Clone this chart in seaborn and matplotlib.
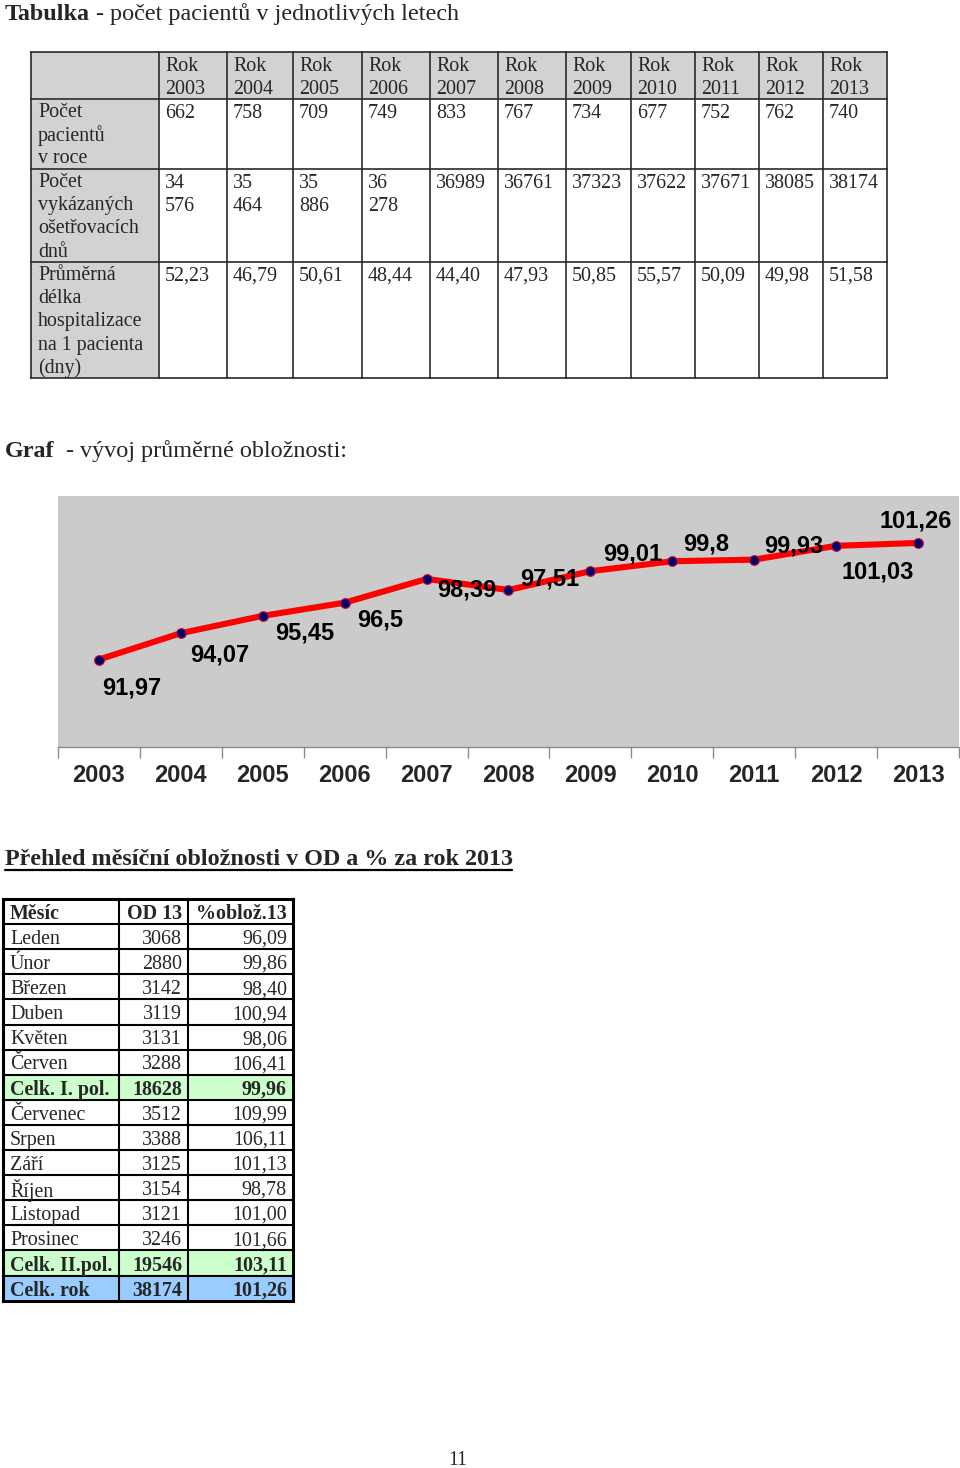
import matplotlib
matplotlib.use("Agg")
import matplotlib.pyplot as plt
from matplotlib.patches import Rectangle
import seaborn as sns
import pandas as pd

# ---------------- data ----------------
years = [2003, 2004, 2005, 2006, 2007, 2008, 2009, 2010, 2011, 2012, 2013]
patients = [662, 758, 709, 749, 833, 767, 734, 677, 752, 762, 740]
care_days = ["34 576", "35 464", "35 886", "36 278", "36989", "36761",
             "37323", "37622", "37671", "38085", "38174"]
avg_stay = [52.23, 46.79, 50.61, 48.44, 44.40, 47.93, 50.85, 55.57, 50.09, 49.98, 51.58]
row_labels = [["Počet", "pacientů", "v roce"],
              ["Počet", "vykázaných", "ošetřovacích", "dnů"],
              ["Průměrná", "délka", "hospitalizace", "na 1 pacienta", "(dny)"]]

occupancy = [91.97, 94.07, 95.45, 96.5, 98.39, 97.51, 99.01, 99.8, 99.93, 101.03, 101.26]

month_header = ["Měsíc", "OD 13", "%oblož.13"]
months = ["Leden", "Únor", "Březen", "Duben", "Květen", "Červen", "Celk. I. pol.",
          "Červenec", "Srpen", "Září", "Říjen", "Listopad", "Prosinec",
          "Celk. II.pol.", "Celk. rok"]
od13 = [3068, 2880, 3142, 3119, 3131, 3288, 18628, 3512, 3388, 3125, 3154,
        3121, 3246, 19546, 38174]
pct13 = [96.09, 99.86, 98.40, 100.94, 98.06, 106.41, 99.96, 109.99, 106.11,
         101.13, 98.78, 101.00, 101.66, 103.11, 101.26]


def cz(v, fmt="{:.2f}"):
    return fmt.format(v).replace(".", ",")


# ---------------- style ----------------
sns.set_style("white")
SERIF = ["Liberation Serif", "DejaVu Serif"]
SANS = ["Liberation Sans", "DejaVu Sans"]
plt.rcParams["font.family"] = SERIF

fig = plt.figure(figsize=(9.6, 14.68), dpi=100)
fig.patch.set_facecolor("white")
page = fig.add_axes([0, 0, 1, 1])
page.set_xlim(0, 960)
page.set_ylim(1468, 0)
page.axis("off")

TXT = 14.4
HEAD = 17.4
DY = 2.2  # visual centre correction for serif text


def rich(x, y, bold_txt, rest, size):
    t1 = page.text(x, y + DY, bold_txt, fontsize=size, fontweight="bold",
                   va="center", ha="left", family=SERIF)
    page.annotate(rest, xy=(1, 0), xycoords=t1, va="bottom", ha="left",
                  fontsize=size, family=SERIF)


# ---------------- heading 1 + top table ----------------
rich(5, 12, "Tabulka", " - počet pacientů v jednotlivých letech", HEAD)

col_x = [31, 159, 227, 293, 362, 430, 498, 566, 631, 695, 759, 823, 887]
row_y = [52, 99, 169, 262, 378]
grey = "#d2d2d2"
page.add_patch(Rectangle((col_x[0], row_y[0]), col_x[-1] - col_x[0],
                         row_y[1] - row_y[0], facecolor=grey, edgecolor="none"))
page.add_patch(Rectangle((col_x[0], row_y[1]), col_x[1] - col_x[0],
                         row_y[-1] - row_y[1], facecolor=grey, edgecolor="none"))
for x in col_x:
    page.plot([x, x], [row_y[0], row_y[-1]], color="#2a2a2a", lw=1.2,
              solid_capstyle="projecting")
for y in row_y:
    page.plot([col_x[0], col_x[-1]], [y, y], color="#2a2a2a", lw=1.2,
              solid_capstyle="projecting")

STEP = 23.3


def cell_lines(x, top, lines):
    for k, s in enumerate(lines):
        page.text(x, top + 12 + DY + k * STEP, s, fontsize=TXT, va="center",
                  ha="left", family=SERIF)


for j, yr in enumerate(years):
    x = col_x[j + 1] + 6
    cell_lines(x, row_y[0], ["Rok", str(yr)])
    cell_lines(x, row_y[1], [str(patients[j])])
    cell_lines(x, row_y[2], care_days[j].split(" "))
    cell_lines(x, row_y[3], [cz(avg_stay[j])])
for i, lines in enumerate(row_labels):
    cell_lines(col_x[0] + 7, row_y[i + 1] - 1, lines)

# ---------------- heading 2 + chart ----------------
rich(5, 449, "Graf", "  - vývoj průměrné obložnosti:", HEAD)

ax = fig.add_axes([58 / 960, 1 - 747 / 1468, (959 - 58) / 960, (747 - 496) / 1468])
df = pd.DataFrame({"year": years, "occ": occupancy})
sns.lineplot(data=df, x="year", y="occ", ax=ax, color="#ff0000", linewidth=4.4,
             marker="o", markersize=7, markerfacecolor="#00006e",
             markeredgecolor="#c8102e", markeredgewidth=0.8)
ax.set_xlim(years[0] - 0.5, years[-1] + 0.5)
ax.set_ylim(85, 105)
ax.set_facecolor("#cbcbcb")
for s in ["top", "left", "right"]:
    ax.spines[s].set_visible(False)
ax.spines["bottom"].set_color("#8a8a8a")
ax.spines["bottom"].set_linewidth(1)
ax.set_yticks([])
ax.set_xticks(years)
ax.set_xticklabels([str(y) for y in years], fontsize=17, fontweight="bold",
                   family=SANS)
ax.set_xticks([y - 0.5 for y in years] + [years[-1] + 0.5], minor=True)
ax.tick_params(axis="x", which="major", length=0, pad=12, bottom=True)
ax.tick_params(axis="x", which="minor", length=8, width=1, color="#8a8a8a",
               direction="out", bottom=True)
ax.set_xlabel("")
ax.set_ylabel("")

label_offsets_px = [(33, 28), (39, 22), (42, 17), (35, 17), (40, 11), (41, -11),
                    (42, -17), (34, -17), (40, -14), (42, 26), (-2, -22)]
for yr, v, (dx, dy) in zip(years, occupancy, label_offsets_px):
    ax.annotate(cz(v, "{}"), xy=(yr, v), xytext=(dx * 0.72, -dy * 0.72),
                textcoords="offset points", ha="center", va="center",
                fontsize=17, fontweight="bold", family=SANS, color="black")

# ---------------- heading 3 + monthly table ----------------
page.text(5, 857 + DY, "Přehled měsíční obložnosti v OD a % za rok 2013", fontsize=HEAD,
          fontweight="bold", va="center", ha="left", family=SERIF)
page.plot([5, 512], [870, 870], color="black", lw=1.6)

mx = [3, 119, 188, 293]
top = 899
rh = 25.1
nrows = len(months) + 1
fills = {6: "#ccffcc", 13: "#ccffcc", 14: "#99ccff"}
for i, c in fills.items():
    page.add_patch(Rectangle((mx[0], top + (i + 1) * rh), mx[-1] - mx[0], rh,
                             facecolor=c, edgecolor="none"))
for k in range(nrows + 1):
    lw = 2.2 if k in (0, nrows) else 1.5
    page.plot([mx[0], mx[-1]], [top + k * rh] * 2, color="black", lw=lw,
              solid_capstyle="projecting")
for k, x in enumerate(mx):
    lw = 2.2 if k in (0, len(mx) - 1) else 1.5
    page.plot([x, x], [top, top + nrows * rh], color="black", lw=lw,
              solid_capstyle="projecting")


def row_text(i, vals, bold):
    yc = top + i * rh + rh / 2 + 0.5 + DY
    w = "bold" if bold else "normal"
    page.text(mx[0] + 7, yc, vals[0], fontsize=TXT, fontweight=w, va="center",
              ha="left", family=SERIF)
    page.text(mx[2] - 6, yc, vals[1], fontsize=TXT, fontweight=w, va="center",
              ha="right", family=SERIF)
    page.text(mx[3] - 6, yc, vals[2], fontsize=TXT, fontweight=w, va="center",
              ha="right", family=SERIF)


row_text(0, month_header, True)
for i, (m, o, p) in enumerate(zip(months, od13, pct13)):
    row_text(i + 1, [m, str(o), cz(p)], i in fills)

# ---------------- page number ----------------
page.text(458, 1458 + DY, "11", fontsize=TXT, va="center", ha="center", family=SERIF)

fig.savefig("out.png", dpi=100)
